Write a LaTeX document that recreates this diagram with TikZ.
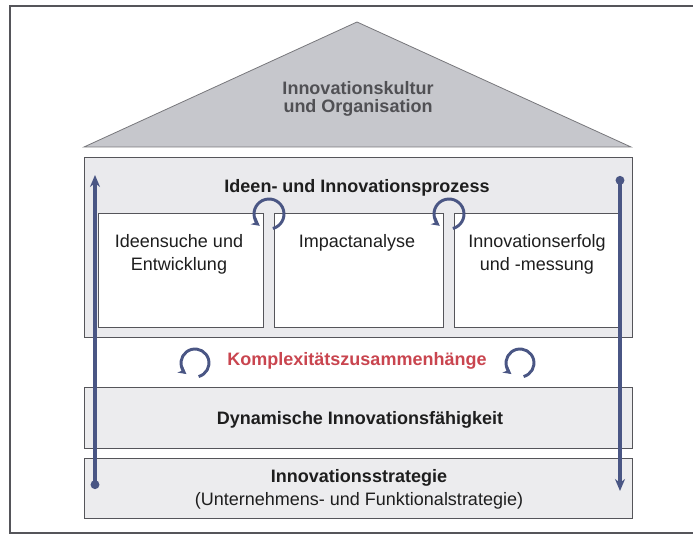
\documentclass[tikz,border=0pt]{standalone}
\usepackage{fontspec}
\setmainfont{Liberation Sans}
\usetikzlibrary{arrows.meta}
\definecolor{arrowblue}{RGB}{74,86,132}
\definecolor{roofgray}{RGB}{198,199,204}
\definecolor{procgray}{RGB}{234,234,237}
\definecolor{bandgray}{RGB}{236,236,238}
\definecolor{linegray}{RGB}{85,85,90}
\definecolor{komred}{RGB}{201,69,79}
\definecolor{rooftext}{RGB}{80,80,84}
\definecolor{textdark}{RGB}{30,30,30}
\begin{document}
\begin{tikzpicture}[x=0.75pt,y=0.75pt,
  framec/.style={draw=linegray, line width=1.1pt},
  roofshape/.style={draw=linegray!80, line width=0.6pt, fill=roofgray},
  procbox/.style={draw=linegray, line width=0.7pt, fill=procgray},
  inbox/.style={draw=linegray, line width=0.7pt, fill=white},
  band/.style={draw=linegray, line width=0.7pt, fill=bandgray},
  txt/.style={inner sep=0pt, text=textdark, font=\fontsize{13.5}{17.6}\selectfont, align=center},
  btxt/.style={txt, font=\fontsize{13.5}{17.6}\selectfont\bfseries},
  rooftxt/.style={inner sep=0pt, text=rooftext, font=\fontsize{13.5}{13.5}\selectfont\bfseries, align=center},
  cycarrow/.style={draw=arrowblue, line width=2.2pt, -{Stealth[length=6pt,width=6.5pt]}},
  vertarrow/.style={draw=arrowblue, line width=2.3pt, {Circle[length=6.5pt]}-{Stealth[length=9pt,width=7.5pt]}}
]
\useasboundingbox (0,0) rectangle (693,-534);
% outer frame (open on the right)
\draw[framec] (693,-6) -- (10,-6) -- (10,-533) -- (693,-533);
% roof
\draw[roofshape] (84,-147) -- (357,-22) -- (631,-147) -- cycle;
\node[rooftxt, anchor=base] (roof) at (358,-113) {Innovationskultur\\und Organisation};
% process box
\draw[procbox] (84,-157) rectangle (632,-337);
\node[btxt, anchor=base] (proc) at (357,-193) {Ideen- und Innovationsprozess};
\draw[inbox] (98,-213) rectangle (263,-327);
\draw[inbox] (274,-213) rectangle (443,-327);
\draw[inbox] (454,-213) rectangle (619,-327);
\node[txt, anchor=base] (p1) at (179,-271) {Ideensuche und\\Entwicklung};
\node[txt, anchor=base] (p2) at (357,-248) {Impactanalyse};
\node[txt, anchor=base] (p3) at (537,-271) {Innovationserfolg\\und -messung};
% complexity row
\node[btxt, anchor=base, text=komred] (kom) at (357,-366) {Komplexitätszusammenhänge};
% bands
\draw[band] (84,-387) rectangle (632,-448);
\node[btxt, anchor=base] (dyn) at (360,-425) {Dynamische Innovationsfähigkeit};
\draw[band] (84,-458) rectangle (632,-518);
\node[btxt, anchor=base] (strat) at (359,-483) {Innovationsstrategie};
\node[txt, anchor=base] (stratsub) at (359,-506) {(Unternehmens- und Funktionalstrategie)};
% cycle arrows
\coordinate (c1) at (269,-214);
\coordinate (c2) at (449,-214);
\coordinate (c3) at (195,-363);
\coordinate (c4) at (520,-363);
\draw[cycarrow] ([shift={(-75:15)}]c1) arc[start angle=-75, end angle=232, radius=15];
\draw[cycarrow] ([shift={(-75:15)}]c2) arc[start angle=-75, end angle=232, radius=15];
\draw[cycarrow] ([shift={(-75:14)}]c3) arc[start angle=-75, end angle=232, radius=14];
\draw[cycarrow] ([shift={(-75:14)}]c4) arc[start angle=-75, end angle=232, radius=14];
% vertical arrows
\coordinate (lstart) at (95,-489);
\coordinate (lend) at (95,-175);
\coordinate (rstart) at (620,-176);
\coordinate (rend) at (620,-491);
\draw[vertarrow] (lstart) -- (lend);
\draw[vertarrow] (rstart) -- (rend);
\end{tikzpicture}
\end{document}
